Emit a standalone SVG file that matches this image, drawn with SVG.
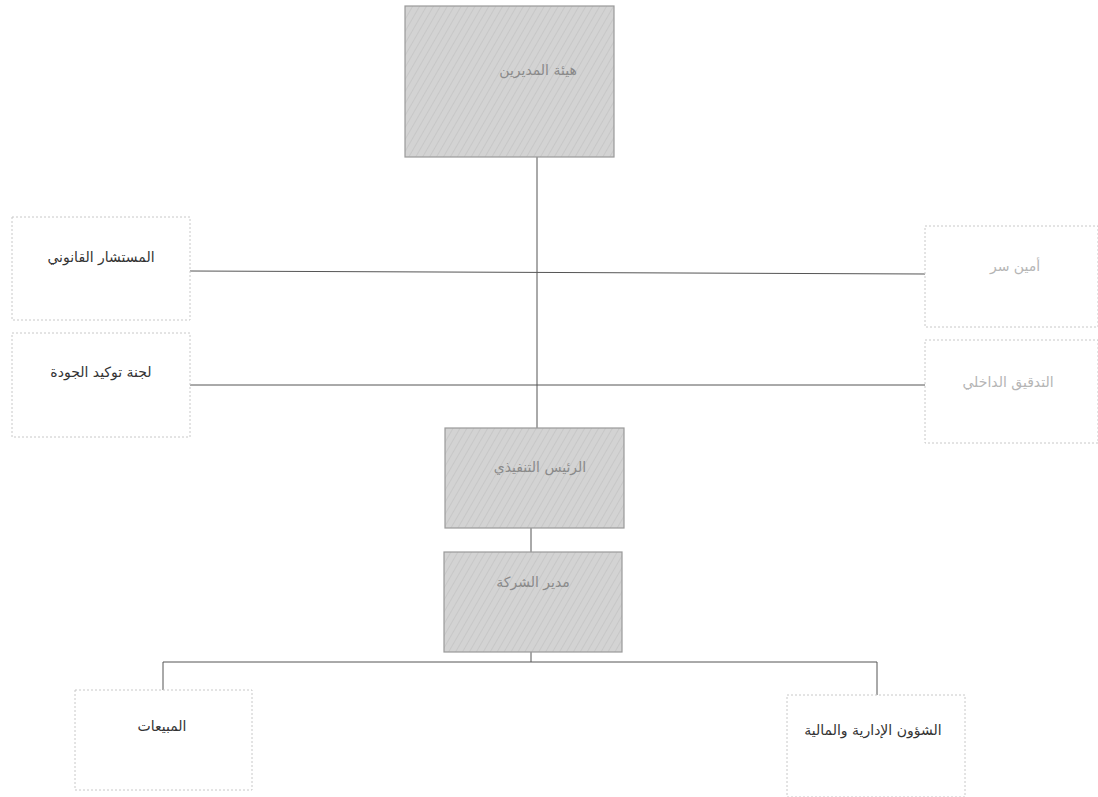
<svg xmlns="http://www.w3.org/2000/svg" width="1098" height="797" viewBox="0 0 1098 797">
<style>
.g{fill:#d3d3d3;stroke:#9a9a9a;stroke-width:1.2}
.w{fill:#ffffff;stroke:#c8c8c8;stroke-width:1;stroke-dasharray:2 2}
.t{font-family:"DejaVu Sans","Noto Sans",sans-serif;font-size:14px;text-anchor:middle;dominant-baseline:middle}
.tg{fill:#8a8a8a}
.td{fill:#333333}
.tl{fill:#b5b5b5}
.c{stroke:#555;stroke-width:1;fill:none}
</style>
<defs>
<pattern id="h" width="6" height="6" patternUnits="userSpaceOnUse" patternTransform="rotate(30)">
<rect width="6" height="6" fill="#d3d3d3"/>
<line x1="0" y1="0" x2="0" y2="6" stroke="#c4c4c4" stroke-width="1.5"/>
</pattern>
</defs>
<rect width="1098" height="797" fill="#ffffff"/>
<g id="connectors">
<line class="c" x1="537" y1="157" x2="537" y2="428"/>
<line class="c" x1="190" y1="271" x2="925" y2="274"/>
<line class="c" x1="190" y1="385" x2="925" y2="385"/>
<line class="c" x1="531" y1="528" x2="531" y2="552"/>
<polyline class="c" points="531,652 531,662 163,662 163,690"/>
<polyline class="c" points="531,662 877,662 877,695"/>
</g>
<g id="board">
<rect x="405" y="6" width="209" height="151" class="g" style="fill:url(#h)"/>
<text x="538" y="71" class="t tg" direction="rtl">هيئة المديرين</text>
</g>
<g id="legal">
<rect x="12" y="217" width="178" height="103" class="w"/>
<text x="101" y="258" class="t td" direction="rtl">المستشار القانوني</text>
</g>
<g id="quality">
<rect x="12" y="333" width="178" height="104" class="w"/>
<text x="101" y="373" class="t td" direction="rtl">لجنة توكيد الجودة</text>
</g>
<g id="secretary">
<rect x="925" y="226" width="173" height="101" class="w"/>
<text x="1015" y="267" class="t tl" direction="rtl">أمين سر</text>
</g>
<g id="audit">
<rect x="925" y="340" width="173" height="103" class="w"/>
<text x="1008" y="383" class="t tl" direction="rtl">التدقيق الداخلي</text>
</g>
<g id="ceo">
<rect x="445" y="428" width="179" height="100" class="g" style="fill:url(#h)"/>
<text x="540" y="468" class="t tg" direction="rtl">الرئيس التنفيذي</text>
</g>
<g id="manager">
<rect x="444" y="552" width="178" height="100" class="g" style="fill:url(#h)"/>
<text x="533" y="583" class="t tg" direction="rtl">مدير الشركة</text>
</g>
<g id="sales">
<rect x="75" y="690" width="177" height="100" class="w"/>
<text x="162" y="727" class="t td" direction="rtl">المبيعات</text>
</g>
<g id="admin">
<rect x="787" y="695" width="178" height="102" class="w"/>
<text x="873" y="731" class="t td" direction="rtl">الشؤون الإدارية والمالية</text>
</g>
</svg>
